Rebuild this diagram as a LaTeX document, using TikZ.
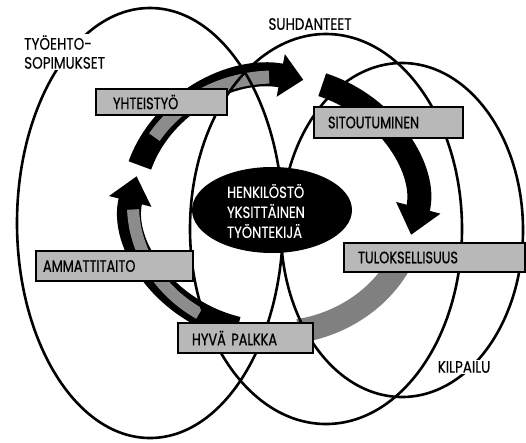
\documentclass[tikz,border=0pt]{standalone}
\usepackage{fontspec}
\setmainfont{Poppins}
\newfontfamily\lblfont[FakeStretch=0.82,FakeBold=0.3]{Poppins}
\newfontfamily\boxfont[FakeStretch=0.78,FakeBold=0.8]{Poppins}
\usetikzlibrary{arrows.meta,shapes.geometric}

\tikzset{
  ring/.style={draw, line width=2.6pt},
  flow/.style={line width=24pt},
  lbl/.style={font=\lblfont\fontsize{16.5}{19}\selectfont, fill=white, inner sep=1pt},
  stepbox/.style={draw, line width=1.4pt, fill=black!28, align=left, inner xsep=14pt, inner ysep=0pt,
    font=\boxfont\fontsize{16.5}{18}\selectfont}
}

\begin{document}
\begin{tikzpicture}[x=1pt, y=-1pt]
\useasboundingbox (0,0) rectangle (526,442);
\fill[white] (0,0) rectangle (526,442);

\coordinate (hub) at (274,205);
% kierto: nuolet
\draw[flow, -{Triangle[length=23pt,width=42pt]}] (hub) ++(198:141 and 128) arc[start angle=198, end angle=282, x radius=141, y radius=128];
\draw[line width=13pt, black!45] (hub) ++(212:141 and 128) arc[start angle=212, end angle=268, x radius=141, y radius=128];
\draw[flow, -{Triangle[length=28pt,width=44pt]}] (hub) ++(290:141 and 128) arc[start angle=290, end angle=373.5, x radius=141, y radius=128];
\draw[flow, black!50] (hub) ++(20:141 and 128) arc[start angle=20, end angle=80, x radius=141, y radius=128];
\draw[flow, -{Triangle[length=26pt,width=42pt]}] (hub) ++(105:141 and 128) arc[start angle=105, end angle=193, x radius=141, y radius=128];
\draw[line width=12pt, black!45] (hub) ++(122:141 and 128) arc[start angle=122, end angle=178, x radius=141, y radius=128];

% ympyrat
\draw[ring] (150,223) ellipse[x radius=133, y radius=215];
\draw[ring] (326,229) ellipse[x radius=136, y radius=195];
\draw[ring] (402,230) ellipse[x radius=121, y radius=167];

% laatikot
\node[stepbox, inner xsep=17pt, text width=97pt, minimum height=26pt] (yht) at (161.5,102) {YHTEISTYÖ};
\node[stepbox, text width=121pt, minimum height=31pt] (sit) at (388.5,122.5) {SITOUTUMINEN};
\node[stepbox, inner xsep=7pt, text width=143pt, minimum height=30pt] (amm) at (114.5,266) {AMMATTITAITO};
\node[stepbox, text width=107pt, minimum height=30pt] (hyv) at (245.5,338) {HYVÄ PALKKA};
\node[stepbox, text width=153pt, minimum height=29pt] (tul) at (434.5,257.5) {TULOKSELLISUUS};

\node[ellipse, fill=black, minimum width=160pt, minimum height=86pt] (staff) at (272,210) {};
\node[font=\lblfont\fontsize{16}{20}\selectfont, text=white, align=left] (stafftxt) at (266,211) {HENKILÖSTÖ\\YKSITTÄINEN\\TYÖNTEKIJÄ};

% otsikot
\node[lbl, align=left, anchor=west] (tes) at (23,52) {TYÖEHTO-\\SOPIMUKSET};
\node[lbl] (suh) at (310,24) {SUHDANTEET};
\node[lbl] (kil) at (464,367) {KILPAILU};
\end{tikzpicture}
\end{document}
